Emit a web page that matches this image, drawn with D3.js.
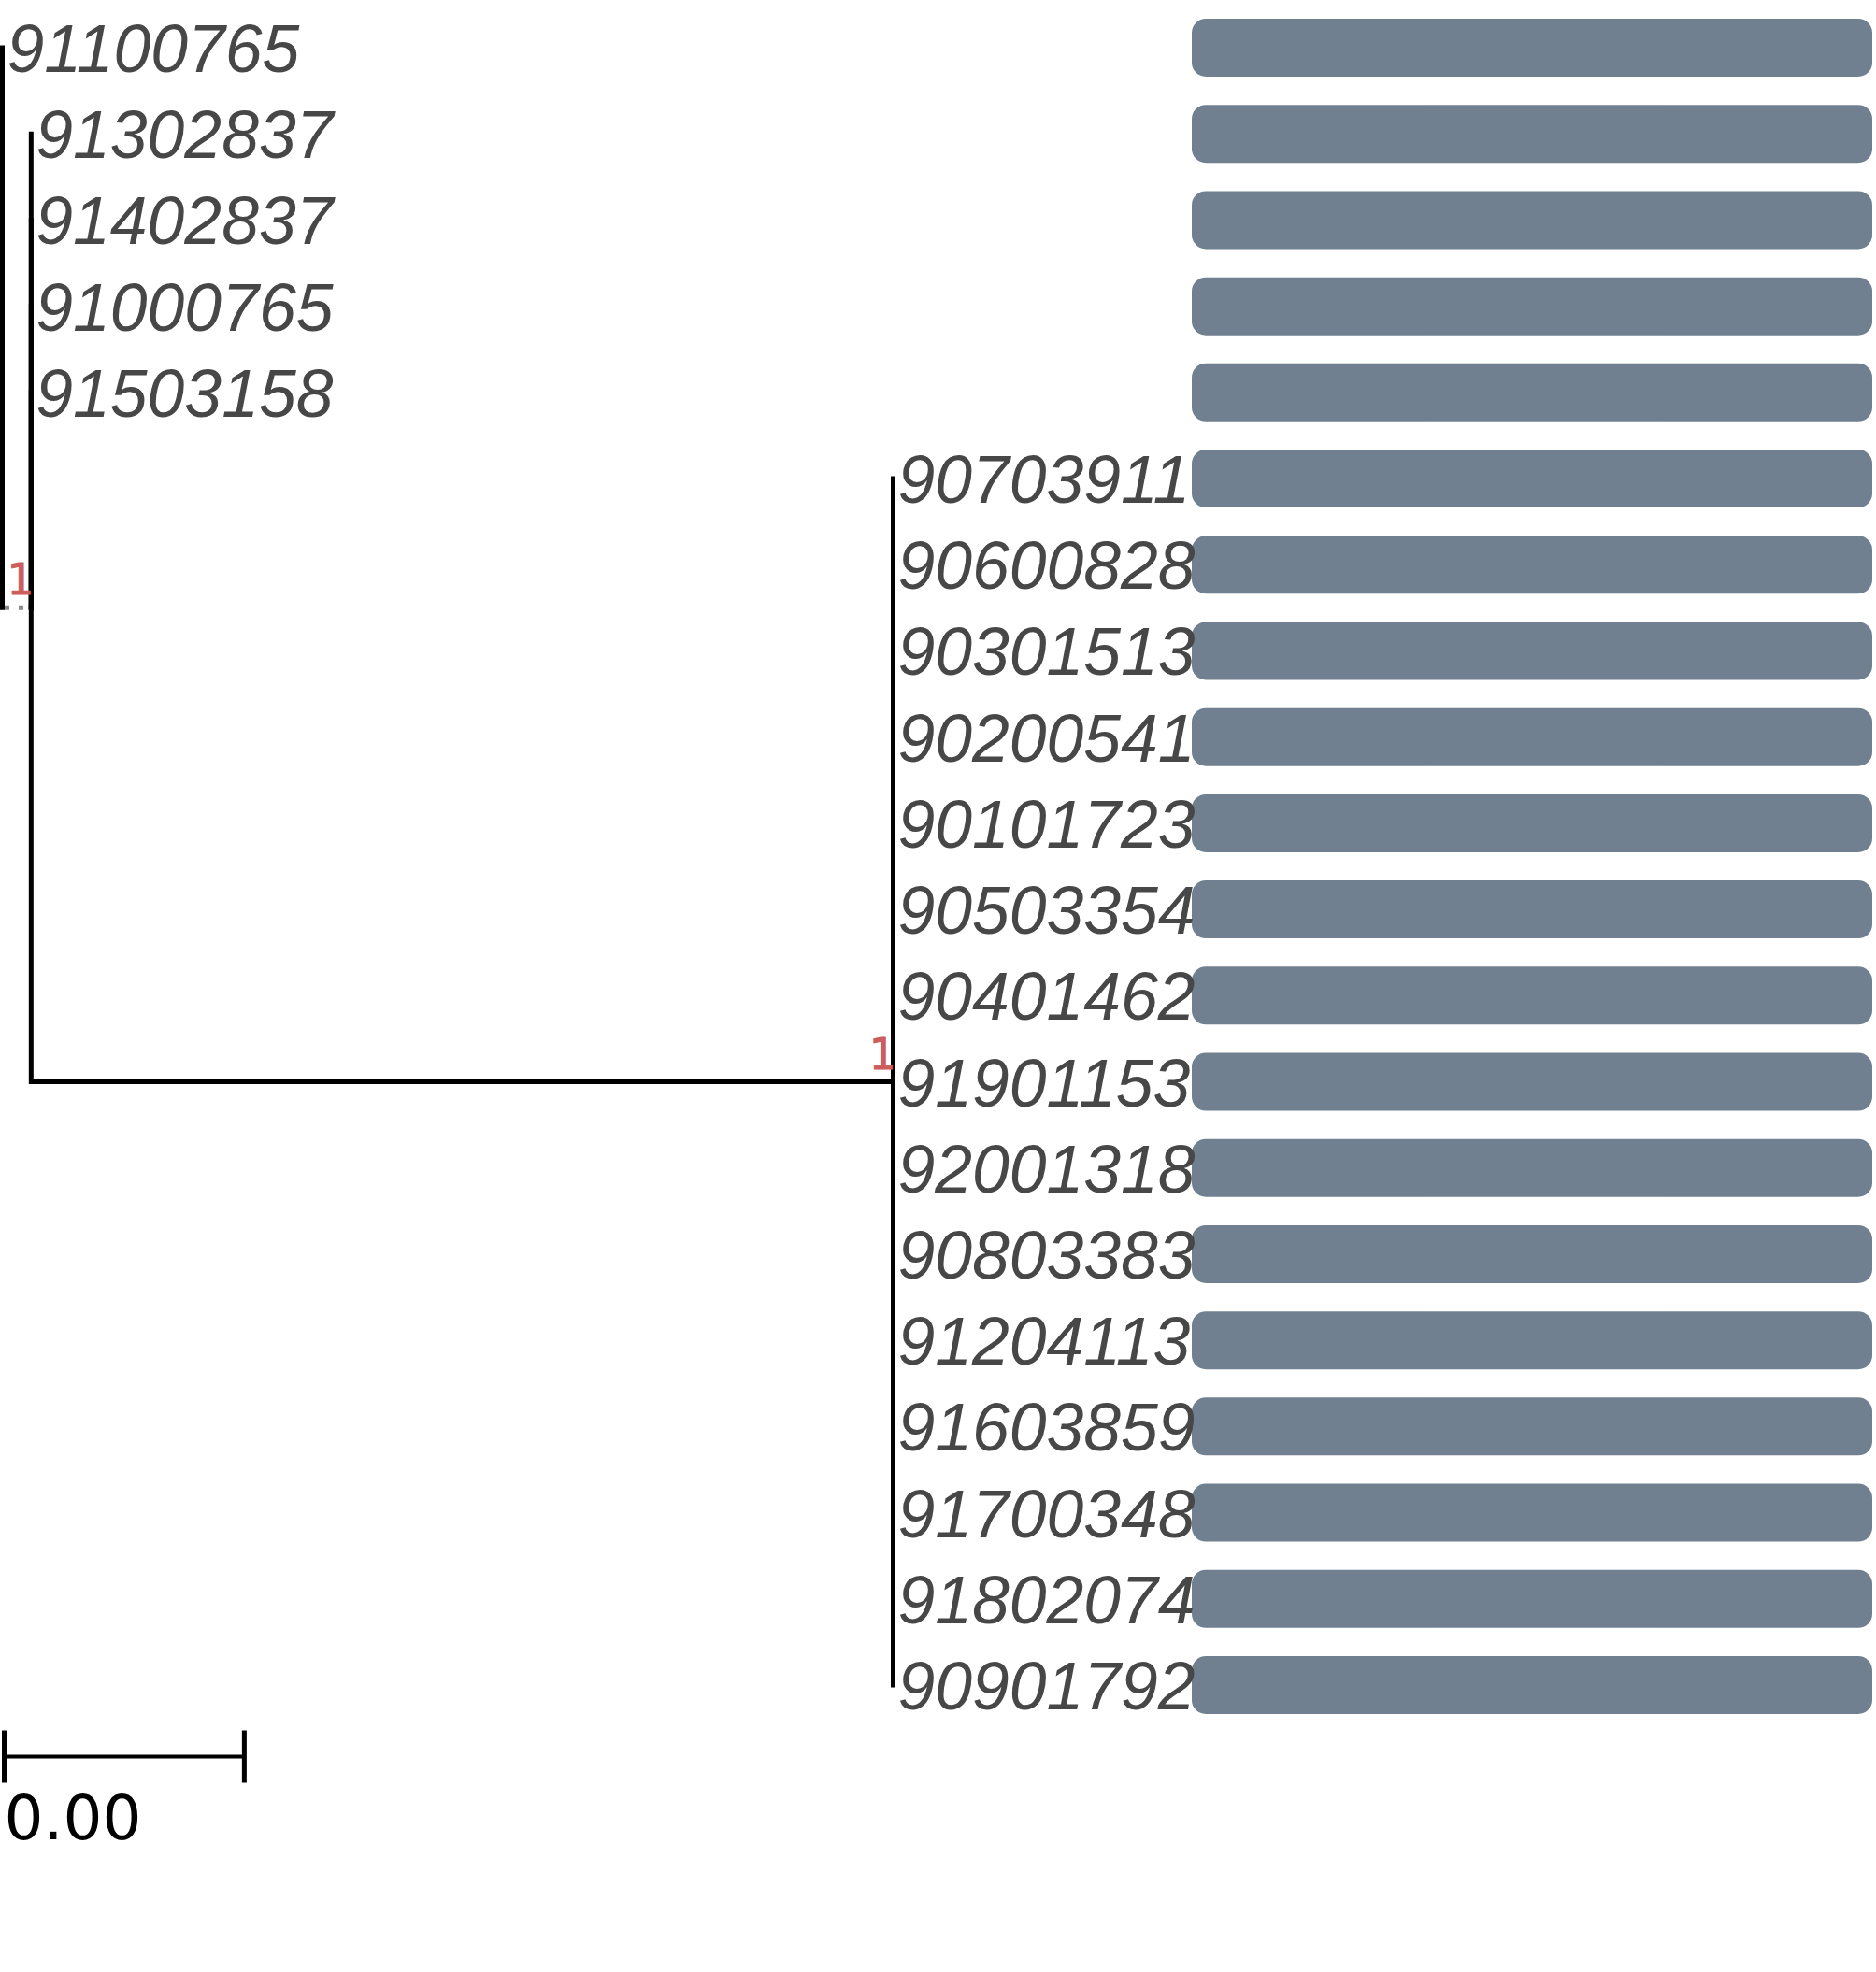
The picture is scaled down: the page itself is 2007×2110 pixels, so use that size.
<!DOCTYPE html>
<html>
<head>
<meta charset="utf-8">
<script src="https://cdn.jsdelivr.net/npm/d3@7"></script>
<style>
  html, body { margin: 0; padding: 0; background: #ffffff; }
  svg { display: block; }
  .support { font-family: "DejaVu Sans Mono", "Liberation Mono", monospace; }
  .tip { font-family: "Liberation Sans", Arial, sans-serif; font-style: italic; }
  .sbtext { font-family: "DejaVu Sans", sans-serif; }
</style>
</head>
<body>
<script>
// ---------------- data ----------------
const rootTips  = ["91100765"];
const innerTips = ["91302837", "91402837", "91000765", "91503158"];
const cladeTips = ["90703911", "90600828", "90301513", "90200541", "90101723",
                   "90503354", "90401462", "91901153", "92001318", "90803383",
                   "91204113", "91603859", "91700348", "91802074", "90901792"];
// branch lengths of internal edges: root -> inner node, inner node -> clade
const internalBranchLengths = [0.00012, 0.00359];
// bootstrap support for inner node and clade node
const supportValues = [1, 1];
// bar values (one per tip, in tip order)
const barValues = [1, 1, 1, 1, 1, 1, 1, 1, 1, 1,
                   1, 1, 1, 1, 1, 1, 1, 1, 1, 1];
const scaleBarLength = 0.001;

// ---------------- tree ----------------
const treeData = {
  name: "root", length: 0,
  children: [
    ...rootTips.map(n => ({ name: n, length: 0 })),
    { name: "inner", length: internalBranchLengths[0], support: supportValues[0],
      children: [
        ...innerTips.map(n => ({ name: n, length: 0 })),
        { name: "clade", length: internalBranchLengths[1], support: supportValues[1],
          children: cladeTips.map(n => ({ name: n, length: 0 })) }
      ] }
  ]
};

const root = d3.hierarchy(treeData);
root.each(d => { d.dist = (d.parent ? d.parent.dist : 0) + (d.data.length || 0); });
const leaves = root.leaves();
leaves.forEach((d, i) => d.idx = i);
root.eachAfter(d => {
  if (d.children) d.idx = (d.children[0].idx + d.children[d.children.length - 1].idx) / 2;
});

const W = 2007, H = 2110;
const maxDist = d3.max(root.descendants(), d => d.dist);
const x = d3.scaleLinear().domain([0, maxDist]).range([2.5, 955.5]);
const y = d3.scaleLinear().domain([0, leaves.length - 1]).range([51, 1803]);
const xBar = d3.scaleLinear().domain([0, 1]).range([1275, 2003]);

const svg = d3.select("body").append("svg")
  .attr("width", W).attr("height", H)
  .attr("viewBox", `0 0 ${W} ${H}`);
svg.append("rect").attr("width", W).attr("height", H).attr("fill", "#ffffff");

// bars
svg.append("g").selectAll("rect")
  .data(leaves)
  .join("rect")
  .attr("x", xBar(0))
  .attr("y", d => y(d.idx) - 31)
  .attr("width", (d, i) => xBar(barValues[i]) - xBar(0))
  .attr("height", 62)
  .attr("rx", 15).attr("ry", 15)
  .attr("fill", "#708090");

// edges
const links = root.links();
const gTree = svg.append("g");
// vertical connectors
gTree.selectAll("line.v")
  .data(links)
  .join("line")
  .attr("class", "v")
  .attr("x1", d => x(d.source.dist)).attr("x2", d => x(d.source.dist))
  .attr("y1", d => y(d.source.idx)).attr("y2", d => y(d.target.idx))
  .attr("stroke", "#000").attr("stroke-width", 5).attr("stroke-linecap", "square");

// horizontal branches (non-zero only)
const hLinks = links.filter(d => d.target.data.length > 0);
gTree.selectAll("line.h")
  .data(hLinks)
  .join("line")
  .attr("class", "h")
  .attr("x1", d => x(d.source.dist) + (d.source.depth === 0 ? 2.5 : 0))
  .attr("x2", d => x(d.target.dist) - (d.source.depth === 0 ? 2.5 : 0))
  .attr("y1", d => y(d.target.idx)).attr("y2", d => y(d.target.idx))
  .attr("stroke", d => d.source.depth === 0 ? "#8a8a8a" : "#000")
  .attr("stroke-dasharray", d => d.source.depth === 0 ? "5,10" : null)
  .attr("stroke-width", 5).attr("stroke-linecap", "butt");

// support labels
svg.append("g").selectAll("text")
  .data(root.descendants().filter(d => d.data.support != null))
  .join("text")
  .attr("class", "support")
  .attr("x", d => x(d.dist) + 2)
  .attr("y", d => y(d.idx) - 14)
  .attr("text-anchor", "end")
  .attr("font-size", 47)
  .attr("fill", "#cd5c5c")
  .attr("stroke", "#cd5c5c")
  .attr("stroke-width", 1)
  .text(d => d.data.support);

// tip labels
svg.append("g").selectAll("text")
  .data(leaves)
  .join("text")
  .attr("class", "tip")
  .attr("x", d => x(d.dist) + 5)
  .attr("y", d => y(d.idx) + 26)
  .attr("font-size", 71.5)
  .attr("fill", "#474747")
  .text(d => d.data.name);

// scale bar
const sbY = 1879.5;
const sb = svg.append("g");
const sbX0 = x(0) + 2, sbX1 = x(scaleBarLength) + 2;
sb.append("line").attr("x1", sbX0).attr("x2", sbX1).attr("y1", sbY).attr("y2", sbY)
  .attr("stroke", "#000").attr("stroke-width", 4);
[sbX0, sbX1].forEach(px => {
  sb.append("line").attr("x1", px).attr("x2", px).attr("y1", sbY - 28).attr("y2", sbY + 28)
    .attr("stroke", "#000").attr("stroke-width", 5);
});
sb.append("text")
  .attr("class", "sbtext")
  .attr("x", sbX0)
  .attr("y", 1968)
  .attr("font-size", 66)
  .attr("fill", "#000")
  .text(d3.format(".2f")(scaleBarLength));
</script>
</body>
</html>
